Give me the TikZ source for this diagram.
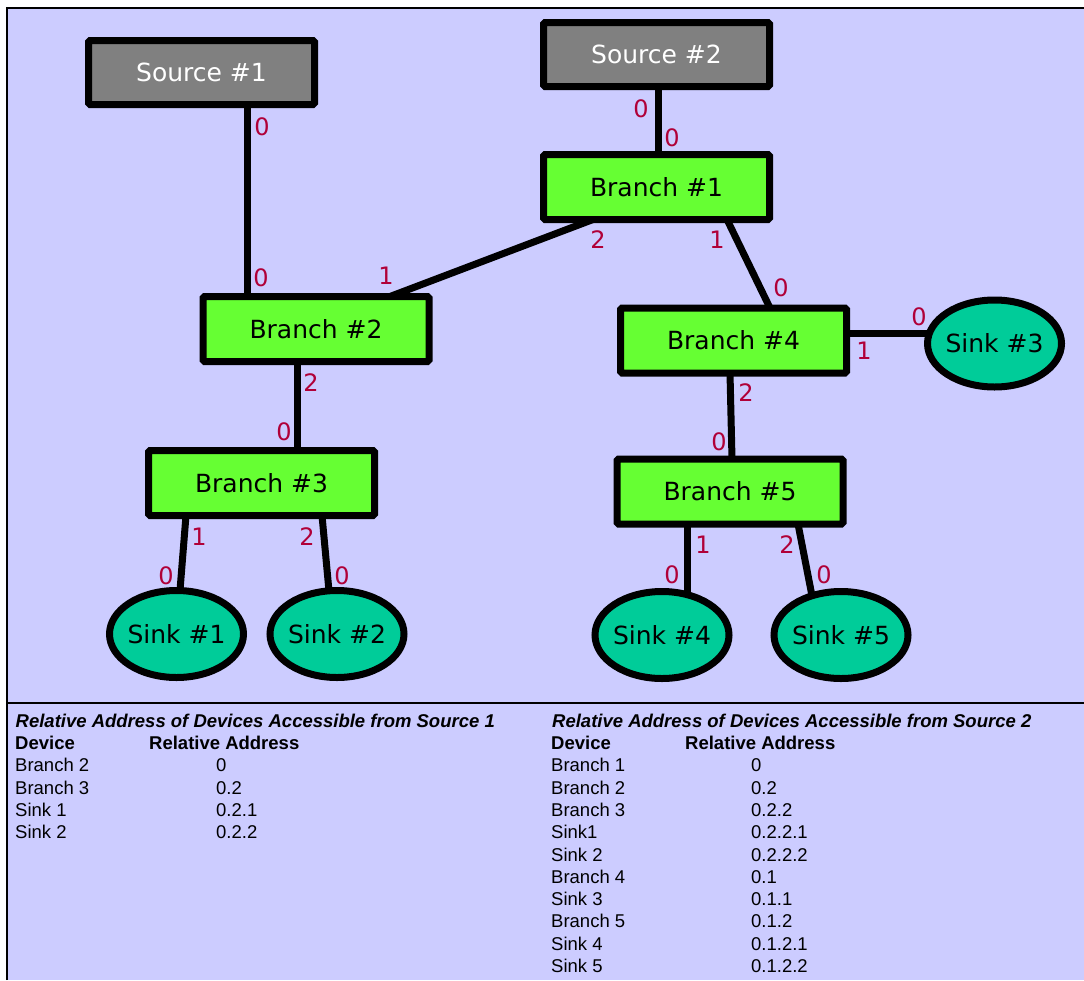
\documentclass[tikz,border=0pt]{standalone}
\usepackage{fontspec}
\setmainfont{DejaVu Sans}
\newfontfamily\tabfont{Liberation Sans}
\usetikzlibrary{shapes.geometric,calc}
\definecolor{bgc}{HTML}{CCCCFF}
\definecolor{srcgray}{HTML}{808080}
\definecolor{brgreen}{HTML}{66FF33}
\definecolor{sinkteal}{HTML}{00CC99}
\definecolor{portred}{HTML}{B00038}
\pgfdeclarelayer{bg}
\pgfdeclarelayer{edges}
\pgfsetlayers{bg,edges,main}
\tikzset{
  srcbox/.style={draw, line width=7pt, fill=srcgray, text=white, minimum width=226pt, minimum height=64pt, inner sep=0pt, outer sep=0pt, rounded corners=1.5pt, font=\fontsize{25}{30}\selectfont},
  brbox/.style={draw, line width=7pt, fill=brgreen, text=black, minimum width=226pt, minimum height=65pt, inner sep=0pt, outer sep=0pt, rounded corners=1.5pt, font=\fontsize{25}{30}\selectfont},
  sinknode/.style={ellipse, draw, line width=7pt, fill=sinkteal, text=black, minimum width=134pt, minimum height=87pt, inner sep=0pt, outer sep=0pt, font=\fontsize{25}{30}\selectfont},
  port/.style={text=portred, inner sep=0pt, font=\fontsize{24}{28}\selectfont},
  wire/.style={line width=7pt},
  tab/.style={anchor=base west, inner sep=0pt, font=\tabfont\fontsize{18.5}{22}\selectfont},
  tabb/.style={tab, font=\tabfont\bfseries\fontsize{18.5}{22}\selectfont},
  tabt/.style={tab, font=\tabfont\bfseries\itshape\fontsize{18.5}{22}\selectfont}
}
\begin{document}
\begin{tikzpicture}[x=1pt,y=-1pt]
\useasboundingbox (0,0) rectangle (1084,980);
\begin{pgfonlayer}{bg}
  \fill[white] (0,0) rectangle (1084,980);
  \fill[bgc] (7,8) rectangle (1084,980);
  \draw[line width=2pt] (7,980) -- (7,8) -- (1084,8);
  \draw[line width=2pt] (7,703) -- (1084,703);
\end{pgfonlayer}

% nodes
\node[srcbox] (s1) at (201.5,72.5) {Source \#1};
\node[srcbox] (s2) at (656.5,54.5) {Source \#2};
\node[brbox] (b1) at (656.5,187) {Branch \#1};
\node[brbox] (b2) at (316,329) {Branch \#2};
\node[brbox] (b3) at (261.5,483) {Branch \#3};
\node[brbox] (b4) at (733.5,340.5) {Branch \#4};
\node[brbox] (b5) at (730,491.5) {Branch \#5};
\node[sinknode] (k1) at (176.5,634) {\makebox[0pt]{Sink \#1}};
\node[sinknode] (k2) at (337,634) {\makebox[0pt]{Sink \#2}};
\node[sinknode] (k3) at (994.5,343.5) {\makebox[0pt]{Sink \#3}};
\node[sinknode] (k4) at (662,635) {\makebox[0pt]{Sink \#4}};
\node[sinknode] (k5) at (841,635) {\makebox[0pt]{Sink \#5}};

% connectors
\begin{pgfonlayer}{edges}
  \draw[wire] (s1.south -| 247,0) -- (b2.north -| 247,0);
  \draw[wire] (s2.south -| 658,0) -- (b1.north -| 658,0);
  \draw[wire] (b1.south -| 593,0) -- (b2.north -| 390,0);
  \draw[wire] (b1.south -| 727,0) -- (b4.north -| 770,0);
  \draw[wire] (b4.east |- 0,333) -- ($(k3.west |- 0,333)+(6,0)$);
  \draw[wire] (b2.south -| 297,0) -- (b3.north -| 297,0);
  \draw[wire] (b4.south -| 730,0) -- (b5.north -| 732,0);
  \draw[wire] (b3.south -| 186,0) -- ($(k1.north -| 179.5,0)+(0,6)$);
  \draw[wire] (b3.south -| 322,0) -- ($(k2.north -| 329.5,0)+(0,6)$);
  \draw[wire] (b5.south -| 687,0) -- ($(k4.north -| 687,0)+(0,6)$);
  \draw[wire] (b5.south -| 798,0) -- ($(k5.center)+(-28,-34)$);
\end{pgfonlayer}

% port labels
\node[port] (p1) at (262,127) {0};
\node[port] (p2) at (261,278) {0};
\node[port] (p3) at (641,109) {0};
\node[port] (p4) at (672,138) {0};
\node[port] (p5) at (598,240) {2};
\node[port] (p6) at (386,276) {1};
\node[port] (p7) at (717,240) {1};
\node[port] (p8) at (781,288) {0};
\node[port] (p9) at (864,351) {1};
\node[port] (p10) at (919,317) {0};
\node[port] (p11) at (311,383) {2};
\node[port] (p12) at (284,432) {0};
\node[port] (p13) at (746,393) {2};
\node[port] (p14) at (719,442) {0};
\node[port] (p15) at (199,537) {1};
\node[port] (p16) at (166,576) {0};
\node[port] (p17) at (307,537) {2};
\node[port] (p18) at (342,576) {0};
\node[port] (p19) at (703,545) {1};
\node[port] (p20) at (672,575) {0};
\node[port] (p21) at (787,545) {2};
\node[port] (p22) at (824,575) {0};

% tables
\node[tabt] (lt) at (15.5,727) {Relative Address of Devices Accessible from Source 1};
\node[tabb] (lh1) at (15,749.5) {Device};
\node[tabb] (lh2) at (149,749.5) {Relative Address};
\foreach \d/\a [count=\i] in {Branch 2/0, Branch 3/0.2, Sink 1/0.2.1, Sink 2/0.2.2} {
  \node[tab] (ld\i) at (15,749.5+22.3*\i) {\d};
  \node[tab] (la\i) at (216,749.5+22.3*\i) {\a};
}
\node[tabt] (rt) at (552,727) {Relative Address of Devices Accessible from Source 2};
\node[tabb] (rh1) at (551,749.5) {Device};
\node[tabb] (rh2) at (685,749.5) {Relative Address};
\foreach \d/\a [count=\i] in {Branch 1/0, Branch 2/0.2, Branch 3/0.2.2, Sink1/0.2.2.1, Sink 2/0.2.2.2, Branch 4/0.1, Sink 3/0.1.1, Branch 5/0.1.2, Sink 4/0.1.2.1, Sink 5/0.1.2.2} {
  \node[tab] (rd\i) at (551,749.5+22.3*\i) {\d};
  \node[tab] (ra\i) at (751,749.5+22.3*\i) {\a};
}
\end{tikzpicture}
\end{document}
